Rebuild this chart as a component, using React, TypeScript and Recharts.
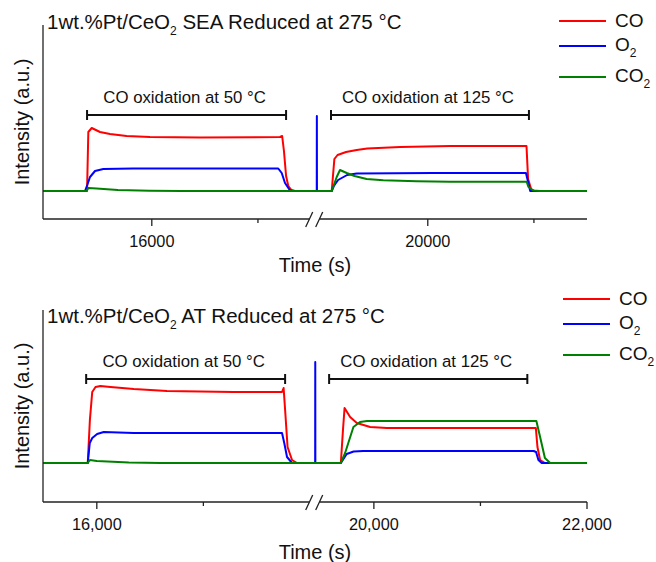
import { LineChart, Line, XAxis, YAxis, ReferenceLine, Legend } from "recharts";

type Pt = [number, number];

// 1wt.%Pt/CeO2 SEA — [time (s), intensity (a.u.)]
const seaCO: Pt[] = [
  [14975, 0], [15390, 0], [15402, 5.9], [15434, 6.3], [15512, 5.9], [15606, 5.7], [15763, 5.5],
  [15983, 5.4], [16454, 5.35], [17207, 5.4], [17228, 5.5], [17245, 4.0], [17265, 1.5], [17286, 0.5],
  [17315, 0.1], [17350, 0],
  [19095, 0], [19120, 3.2], [19150, 3.6], [19230, 3.9], [19330, 4.1], [19430, 4.25], [19740, 4.4],
  [20210, 4.5], [20680, 4.5], [20930, 4.5], [20945, 1.2], [20975, 0.15], [21005, 0], [21500, 0],
];
const seaO2: Pt[] = [
  [14975, 0], [15371, 0], [15392, 0.6], [15418, 1.4], [15465, 2.0], [15543, 2.2], [15823, 2.25],
  [17191, 2.25], [17224, 1.8], [17255, 0.8], [17302, 0.05], [17340, 0],
  [18954, 0], [18955, 7.5], [18956, 0],
  [19095, 0], [19115, 0.5], [19155, 1.1], [19240, 1.6], [19330, 1.75], [20050, 1.8], [20925, 1.8],
  [20945, 0.9], [20965, 0], [21500, 0],
];
const seaCO2: Pt[] = [
  [14975, 0], [15385, 0], [15402, 0.3], [15480, 0.25], [15680, 0.1], [15980, 0.03], [16280, 0],
  [19095, 0], [19142, 1.4], [19173, 2.1], [19236, 1.8], [19310, 1.5], [19424, 1.2], [19581, 1.07],
  [19895, 0.97], [20209, 0.93], [20932, 0.93], [20947, 0.43], [20994, 0.05], [21057, 0], [21500, 0],
];

// 1wt.%Pt/CeO2 AT
const atCO: Pt[] = [
  [15495, 0], [15915, 0], [15935, 4.3], [15957, 7.1], [15988, 7.6], [16034, 7.7], [16128, 7.6],
  [16347, 7.4], [16659, 7.2], [17284, 7.1], [17738, 7.1], [17753, 7.5], [17769, 5.0], [17790, 1.6],
  [17832, 0.3], [17878, 0],
  [19690, 0], [19710, 3.3], [19725, 5.5], [19777, 4.6], [19840, 4.0], [19965, 3.6], [20122, 3.5],
  [20556, 3.5], [21520, 3.5], [21535, 1.6], [21560, 0.3], [21605, 0], [22000, 0],
];
const atO2: Pt[] = [
  [15495, 0], [15915, 0], [15934, 2.0], [15957, 2.5], [16003, 2.9], [16065, 3.1], [16347, 3.0],
  [17738, 3.0], [17759, 2.0], [17785, 0.6], [17832, 0],
  [19449, 0], [19450, 10.1], [19451, 0],
  [19690, 0], [19745, 0.9], [19810, 1.15], [19900, 1.2], [21500, 1.2], [21522, 1.1], [21544, 0.3],
  [21575, 0], [22000, 0],
];
const atCO2: Pt[] = [
  [15495, 0], [15915, 0], [15935, 0.3], [16000, 0.2], [16300, 0.05], [16600, 0],
  [19690, 0], [19730, 1.0], [19760, 2.0], [19808, 3.6], [19870, 4.1], [19935, 4.2], [21525, 4.2],
  [21560, 2.6], [21605, 0.5], [21655, 0], [22000, 0],
];

const seaTicksMajor = [16000, 20000];
const seaTicksMinor = [17000, 21000];
const atTicksMajor = [16000, 20000, 22000];
const atTicksMinor = [17000, 21000];

const seaWindows = [
  { text: "CO oxidation at 50 °C", from: 15390, to: 17265 },
  { text: "CO oxidation at 125 °C", from: 19088, to: 20953 },
];
const atWindows = [
  { text: "CO oxidation at 50 °C", from: 15900, to: 17767 },
  { text: "CO oxidation at 125 °C", from: 19580, to: 21440 },
];

const species = [
  { key: "CO", name: "CO", sub: "", color: "#ff0000" },
  { key: "O2", name: "O", sub: "2", color: "#0000ff" },
  { key: "CO2", name: "CO", sub: "2", color: "#008000" },
];

const AXIS = "#222";
const TEXT = "#111";
const legendRows = [12, 37, 68];

const panels = [
  {
    id: "sea", sample: "SEA", series: [seaCO, seaO2, seaCO2], windows: seaWindows,
    start: 14975, end: 21500, breakAt: 17530, gap: 1400, yMin: -2.8, yMax: 16.6, bracketY: 7.6,
    majors: seaTicksMajor, minors: seaTicksMinor, comma: false,
    top: 0, height: 281, marginTop: 25, marginBottom: 2, timeOffset: 7,
    titleTop: 12.2, legendLeft: 559, legendTop: 9,
  },
  {
    id: "at", sample: "AT", series: [atCO, atO2, atCO2], windows: atWindows,
    start: 15495, end: 22000, breakAt: 18040, gap: 1400, yMin: -3.9, yMax: 15.3, bracketY: 8.4,
    majors: atTicksMajor, minors: atTicksMinor, comma: true,
    top: 280, height: 282, marginTop: 30, marginBottom: 0, timeOffset: 3,
    titleTop: 305.8, legendLeft: 563, legendTop: 7,
  },
];

const subStyle = { fontSize: 12, verticalAlign: "baseline", position: "relative" as const, top: 6 };

function SpeciesLegend() {
  return (
    <div style={{ position: "relative", height: 90 }}>
      {species.map((s, i) => (
        <div
          key={s.key}
          style={{ position: "absolute", left: 0, top: legendRows[i] - 12, height: 24, display: "flex", alignItems: "center" }}
        >
          <div style={{ width: 47, height: 2, background: s.color }} />
          <span style={{ marginLeft: 9, fontSize: 19, lineHeight: "24px", color: TEXT, whiteSpace: "nowrap" }}>
            {s.name}
            {s.sub && <sub style={subStyle}>{s.sub}</sub>}
          </span>
        </div>
      ))}
    </div>
  );
}

function Panel({ cfg }: { cfg: (typeof panels)[number] }) {
  const squeeze = (t: number) => (t > cfg.breakAt ? t - cfg.gap : t);
  const unsqueeze = (c: number) => (c > cfg.breakAt ? c + cfg.gap : c);
  const x0 = squeeze(cfg.start);
  const x1 = squeeze(cfg.end);
  const tickVals = [...cfg.majors, ...cfg.minors].sort((a, b) => a - b).map(squeeze);

  const renderTick = (p: any) => {
    const t = Math.round(unsqueeze(p.payload.value));
    const major = cfg.majors.includes(t);
    return (
      <g>
        <line x1={p.x} y1={p.y} x2={p.x} y2={p.y + (major ? 7 : 4)} stroke={AXIS} strokeWidth={1.3} />
        {major && (
          <text x={p.x} y={p.y + 28} textAnchor="middle" fontSize={16.3} fill={TEXT}>
            {cfg.comma ? t.toLocaleString("en-US") : String(t)}
          </text>
        )}
      </g>
    );
  };

  const breakMarks = (p: any) => {
    const x = p.x1;
    const y = Math.max(p.y1, p.y2);
    return (
      <g stroke={AXIS} strokeWidth={1.3}>
        <line x1={x - 8.5} y1={y + 8} x2={x - 1.5} y2={y - 7} />
        <line x1={x + 1.5} y1={y + 8} x2={x + 8.5} y2={y - 7} />
      </g>
    );
  };

  const bracket = (text: string) => (p: any) => {
    const a = Math.min(p.x1, p.x2);
    const b = Math.max(p.x1, p.x2);
    const y = p.y1;
    return (
      <g>
        <line x1={a} y1={y} x2={b} y2={y} stroke={TEXT} strokeWidth={2} />
        <line x1={a} y1={y - 5} x2={a} y2={y + 5} stroke={TEXT} strokeWidth={2} />
        <line x1={b} y1={y - 5} x2={b} y2={y + 5} stroke={TEXT} strokeWidth={2} />
        <text x={(a + b) / 2 - 2} y={y - 12} textAnchor="middle" fontSize={16.8} fill={TEXT}>
          {text}
        </text>
      </g>
    );
  };

  return (
    <>
      <div style={{ position: "absolute", left: 0, top: cfg.top }}>
        <LineChart
          width={656}
          height={cfg.height}
          margin={{ top: cfg.marginTop, right: 69, bottom: cfg.marginBottom, left: 0 }}
        >
          <XAxis
            dataKey="x"
            type="number"
            domain={[x0, x1]}
            allowDataOverflow
            ticks={tickVals}
            interval={0}
            tickSize={0}
            tickMargin={0}
            axisLine={false}
            tickLine={false}
            height={60}
            tick={renderTick}
            label={{ value: "Time (s)", position: "insideBottom", offset: cfg.timeOffset, fontSize: 20, fill: TEXT }}
          />
          <YAxis
            type="number"
            domain={[cfg.yMin, cfg.yMax]}
            allowDataOverflow
            tick={false}
            tickLine={false}
            width={43}
            axisLine={{ stroke: AXIS, strokeWidth: 1.3 }}
            label={{ value: "Intensity (a.u.)", angle: -90, position: "center", fontSize: 20, fill: TEXT }}
          />
          {species.map((s, i) => (
            <Line
              key={s.key}
              data={cfg.series[i].map(([t, v]) => ({ x: squeeze(t), v }))}
              dataKey="v"
              name={s.key}
              type="linear"
              stroke={s.color}
              strokeWidth={2}
              strokeLinejoin="round"
              dot={false}
              activeDot={false}
              isAnimationActive={false}
            />
          ))}
          <ReferenceLine
            segment={[{ x: x0, y: cfg.yMin }, { x: cfg.breakAt - 45, y: cfg.yMin }]}
            stroke={AXIS}
            strokeWidth={1.3}
          />
          <ReferenceLine
            segment={[{ x: cfg.breakAt + 50, y: cfg.yMin }, { x: x1, y: cfg.yMin }]}
            stroke={AXIS}
            strokeWidth={1.3}
          />
          <ReferenceLine x={cfg.breakAt} shape={breakMarks} />
          {cfg.windows.map((w) => (
            <ReferenceLine
              key={w.text}
              segment={[{ x: squeeze(w.from), y: cfg.bracketY }, { x: squeeze(w.to), y: cfg.bracketY }]}
              shape={bracket(w.text)}
            />
          ))}
          <Legend
            layout="horizontal"
            verticalAlign="middle"
            align="center"
            wrapperStyle={{ left: cfg.legendLeft, top: cfg.legendTop, width: 97 }}
            content={() => <SpeciesLegend />}
          />
        </LineChart>
      </div>
      <div
        style={{
          position: "absolute", left: 47, top: cfg.titleTop, fontSize: 20.5, lineHeight: "20px",
          color: TEXT, whiteSpace: "nowrap",
        }}
      >
        1wt.%Pt/CeO<sub style={subStyle}>2</sub> {cfg.sample} Reduced at 275 °C
      </div>
    </>
  );
}

export default function App() {
  return (
    <div
      style={{
        position: "absolute", left: 0, top: 0, width: 656, height: 562, background: "#fff",
        fontFamily: '"Liberation Sans", Arial, sans-serif',
      }}
    >
      {panels.map((cfg) => (
        <Panel key={cfg.id} cfg={cfg} />
      ))}
    </div>
  );
}
